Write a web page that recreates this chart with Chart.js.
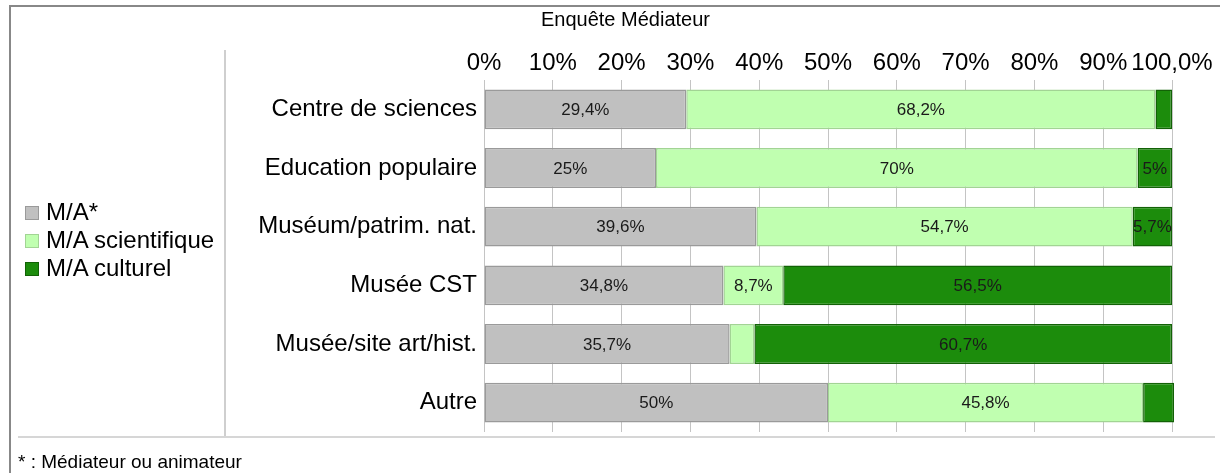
<!DOCTYPE html>
<html>
<head>
<meta charset="utf-8">
<script src="https://cdn.jsdelivr.net/npm/chart.js@4.4.1/dist/chart.umd.min.js"></script>
<style>
  html, body { margin: 0; padding: 0; background: #fff; }
  body { width: 1220px; height: 473px; position: relative; overflow: hidden; font-family: "Liberation Sans", Arial, sans-serif; color: #000; }
  #c { position: absolute; left: 0; top: 0; }
  .frame { position: absolute; left: 9px; top: 5px; width: 1220px; height: 480px; border-left: 2px solid #888; border-top: 2px solid #888; }
  .vsep { position: absolute; left: 224px; top: 50px; width: 2px; height: 387px; background: #cfcfcf; }
  .hsep { position: absolute; left: 18px; top: 436px; width: 1197px; height: 2px; background: #d6d6d6; }
  .title { position: absolute; left: 0; width: 1251px; top: 8px; text-align: center; font-size: 20px; }
  .foot { position: absolute; left: 18px; top: 451px; font-size: 19px; }
  .legend { position: absolute; left: 25px; top: 198px; font-size: 24px; }
  .legend div { height: 28px; line-height: 28px; white-space: nowrap; }
  .legend span.box { display: inline-block; width: 14px; height: 14px; margin-right: 7px; vertical-align: 0px; box-sizing: border-box; border: 1px solid; }
</style>
</head>
<body>
<canvas id="c" width="1220" height="473"></canvas>
<div class="frame"></div>
<div class="vsep"></div>
<div class="hsep"></div>
<div class="title">Enquête Médiateur</div>
<div class="legend" id="legend"></div>
<div class="foot">* : Médiateur ou animateur</div>
<script>
const categories = ["Centre de sciences", "Education populaire", "Muséum/patrim. nat.", "Musée CST", "Musée/site art/hist.", "Autre"];
const seriesNames = ["M/A*", "M/A scientifique", "M/A culturel"];
const maValues = [29.4, 25, 39.6, 34.8, 35.7, 50];
const scientifiqueValues = [68.2, 70, 54.7, 8.7, 3.6, 45.8];
const culturelValues = [2.4, 5, 5.7, 56.5, 60.7, 4.5];
const tickLabels = ["0%", "10%", "20%", "30%", "40%", "50%", "60%", "70%", "80%", "90%", "100,0%"];

const fills = ["#c0c0c0", "#c0ffb0", "#1c8c0c"];
const borders = ["#9a9a9a", "#a2d494", "#126206"];

const legendEl = document.getElementById('legend');
seriesNames.forEach((n, i) => {
  const d = document.createElement('div');
  const b = document.createElement('span');
  b.className = 'box';
  b.style.background = fills[i];
  b.style.borderColor = borders[i];
  d.appendChild(b);
  d.appendChild(document.createTextNode(n));
  legendEl.appendChild(d);
});

const valueLabels = {
  id: 'valueLabels',
  afterDatasetsDraw(chart) {
    const ctx = chart.ctx;
    ctx.save();
    ctx.font = '17px "Liberation Sans", Arial, sans-serif';
    ctx.fillStyle = '#1a1a1a';
    ctx.textAlign = 'center';
    ctx.textBaseline = 'middle';
    chart.data.datasets.forEach((ds, di) => {
      const meta = chart.getDatasetMeta(di);
      meta.data.forEach((el, i) => {
        const v = ds.data[i];
        if (v < 5) return;
        const p = el.getProps(['x', 'y', 'base'], true);
        const cx = (p.x + p.base) / 2;
        ctx.fillText(String(v).replace('.', ',') + '%', cx, p.y + 1);
      });
    });
    ctx.restore();
  }
};

const mk = (label, data, i) => ({
  label, data,
  backgroundColor: fills[i],
  borderColor: borders[i],
  borderWidth: 1.5,
  borderSkipped: false,
  barPercentage: 0.68,
  categoryPercentage: 1.0,
  clip: false
});

new Chart(document.getElementById('c'), {
  type: 'bar',
  data: {
    labels: categories,
    datasets: [
      mk(seriesNames[0], maValues, 0),
      mk(seriesNames[1], scientifiqueValues, 1),
      mk(seriesNames[2], culturelValues, 2)
    ]
  },
  options: {
    indexAxis: 'y',
    responsive: false,
    animation: false,
    events: [],
    layout: { padding: { left: 226, right: 48, top: 50, bottom: 41 } },
    plugins: { legend: { display: false }, title: { display: false }, tooltip: { enabled: false } },
    scales: {
      x: {
        position: 'top',
        stacked: true,
        min: 0, max: 100,
        afterBuildTicks(scale) {
          scale.ticks = tickLabels.map((t, i) => ({ value: i * 10 }));
        },
        afterFit(scale) { scale.height = 30; },
        ticks: {
          autoSkip: false,
          maxRotation: 0,
          padding: 2,
          color: '#000',
          font: { family: '"Liberation Sans", Arial, sans-serif', size: 24 },
          callback: (v, i) => tickLabels[i]
        },
        grid: { color: '#c4c4c4', lineWidth: 1, drawTicks: false },
        border: { display: false }
      },
      y: {
        stacked: true,
        afterFit(scale) { scale.width = 258; },
        ticks: {
          padding: 7,
          color: '#000',
          font: { family: '"Liberation Sans", Arial, sans-serif', size: 24 }
        },
        grid: { display: false, drawTicks: false },
        border: { display: false }
      }
    }
  },
  plugins: [valueLabels]
});
</script>
</body>
</html>
